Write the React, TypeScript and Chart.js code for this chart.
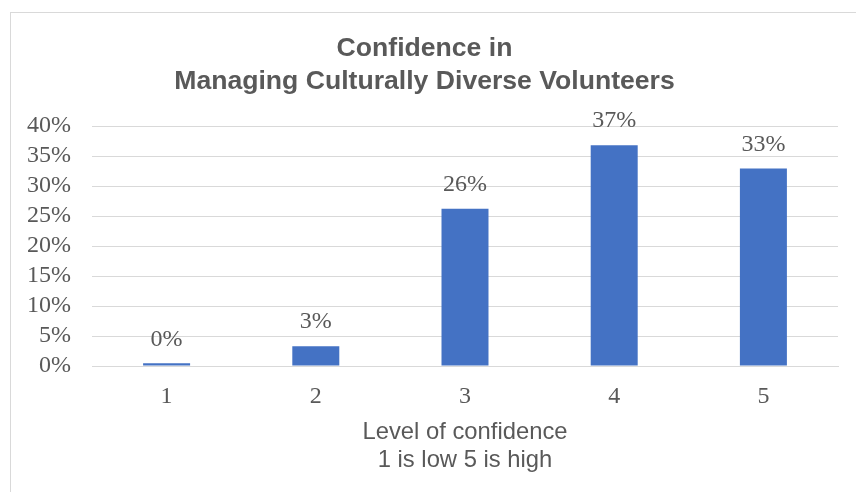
import { useEffect, useRef } from "react";
import { Chart, registerables } from "chart.js";

Chart.register(...registerables);

const categories = ["1", "2", "3", "4", "5"];
const values = [0.45, 3.3, 26.2, 36.8, 32.9];
const valueLabels = ["0%", "3%", "26%", "37%", "33%"];
const titleLines = ["Confidence in", "Managing Culturally Diverse Volunteers"];
const axisTitleLines = ["Level of confidence", "1 is low 5 is high"];
const yMax = 40;
const yStep = 5;

const SANS = "'Liberation Sans', Arial, sans-serif";
const SERIF = "'Liberation Serif', 'Times New Roman', serif";
const TEXT = "#595959";
const GRID = "#d9d9d9";
const BAR = "#4472C4";

const labelPlugin = {
  id: "barLabels",
  afterDatasetsDraw(chart: any) {
    const ctx = chart.ctx;
    const meta = chart.getDatasetMeta(0);
    ctx.save();
    ctx.font = `24px ${SERIF}`;
    ctx.fillStyle = TEXT;
    ctx.textAlign = "center";
    ctx.textBaseline = "middle";
    meta.data.forEach((el: any, i: number) => {
      ctx.fillText(valueLabels[i], el.x, el.y - 24);
    });
    ctx.restore();
  },
};

export default function App() {
  const ref = useRef<HTMLCanvasElement | null>(null);
  useEffect(() => {
    if (!ref.current) return;
    const chart = new Chart(ref.current, {
      type: "bar",
      data: {
        labels: categories,
        datasets: [
          {
            data: values,
            backgroundColor: BAR,
            borderWidth: 0,
            barPercentage: 0.315,
            categoryPercentage: 1,
          },
        ],
      },
      options: {
        responsive: false,
        animation: false,
        layout: { padding: { left: 0, right: 29, top: 0, bottom: 19 } },
        plugins: {
          legend: { display: false },
          tooltip: { enabled: false },
          title: {
            display: true,
            text: titleLines,
            color: TEXT,
            font: { family: SANS, size: 26.6, weight: "bold", lineHeight: 33 / 26.6 },
            padding: { top: 19.5, bottom: 27.5 },
          },
        },
        scales: {
          x: {
            grid: { display: false },
            border: { display: true, color: GRID, width: 1 },
            ticks: {
              color: TEXT,
              font: { family: SERIF, size: 24, lineHeight: 1.2 },
              padding: 8,
            },
            title: {
              display: true,
              text: axisTitleLines,
              color: TEXT,
              font: { family: SANS, size: 23.8, lineHeight: 28 / 23.8 },
              padding: { top: 0, bottom: 0 },
            },
            afterFit: (s: any) => {
              s.height = 108;
            },
          },
          y: {
            min: 0,
            max: yMax,
            border: { display: false },
            grid: { color: GRID, lineWidth: 1, drawTicks: false },
            ticks: {
              stepSize: yStep,
              autoSkip: false,
              color: TEXT,
              font: { family: SERIF, size: 24 },
              padding: 21,
              callback: (v: any) => `${v}%`,
            },
            afterFit: (s: any) => {
              s.width = 81;
            },
          },
        },
      },
      plugins: [labelPlugin],
    } as any);
    return () => chart.destroy();
  }, []);

  return (
    <div
      style={{
        position: "fixed",
        left: 0,
        top: 0,
        width: 856,
        height: 492,
        overflow: "hidden",
        background: "#fff",
      }}
    >
      <div
        style={{
          position: "absolute",
          left: 10,
          top: 12,
          width: 856,
          height: 490,
          border: `1px solid ${GRID}`,
        }}
      >
        <canvas
          ref={ref}
          width={856}
          height={480}
          style={{ display: "block", width: 856, height: 480 }}
        />
      </div>
    </div>
  );
}
